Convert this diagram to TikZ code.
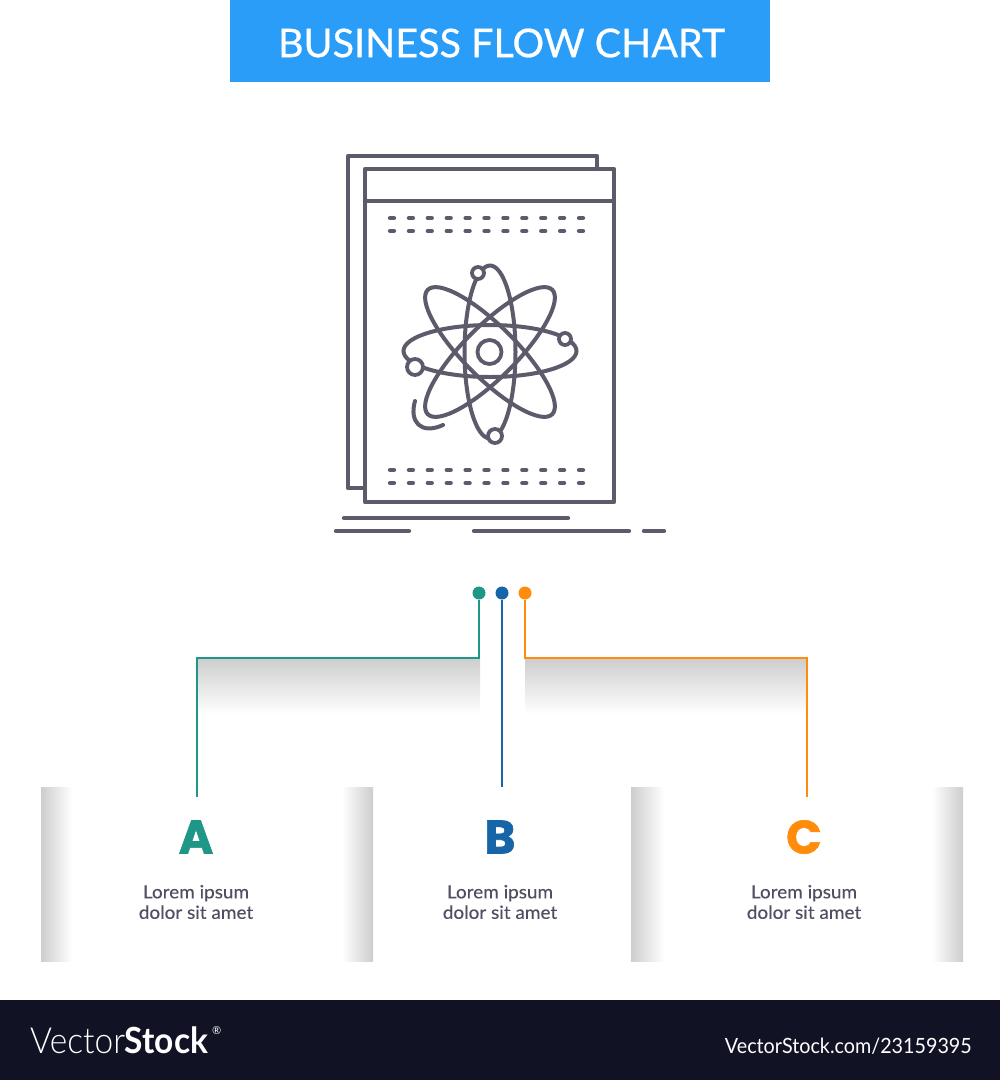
\documentclass[tikz,border=0pt]{standalone}
\usepackage{fontspec}
\setmainfont{Lato}
\newfontfamily\titlefont[FakeBold=.6]{Lato}
\newfontfamily\loremfont[FakeBold=.25, FakeStretch=1.04]{Lato}
\newfontfamily\letterfont[FakeBold=1.2]{Poppins}
\newfontfamily\footfont[FakeStretch=.94]{Lato}
\newfontfamily\logofont[FakeStretch=.93]{Lato Light}
\newfontfamily\logoboldfont[FakeStretch=.93]{Lato}
\definecolor{titleblue}{HTML}{2A9DF8}
\definecolor{icongray}{HTML}{5C5A6B}
\definecolor{textgray}{HTML}{504E62}
\definecolor{tealc}{HTML}{1E9787}
\definecolor{bluec}{HTML}{1565A8}
\definecolor{orangec}{HTML}{FF8C0A}
\definecolor{footc}{HTML}{111325}
\definecolor{shadec}{HTML}{CDCDCE}
\tikzset{
	icon/.style={draw=icongray, line width=4.3pt, line join=round, line cap=round},
	thin icon/.style={draw=icongray, line width=4pt, line cap=round},
	electron/.style={circle, draw=icongray, fill=white, line width=3.8pt, inner sep=0pt},
	dot/.style={circle, inner sep=0pt, minimum size=13pt},
	letter/.style={font=\letterfont\bfseries\fontsize{47}{47}\selectfont},
	lorem/.style={text=textgray, align=center, font=\loremfont\fontsize{18.2}{20.5}\selectfont},
	shade v/.style={top color=shadec, middle color=shadec!40!white, bottom color=white},
	shade l/.style={left color=shadec, middle color=shadec!30!white, right color=white},
	shade r/.style={left color=white, middle color=shadec!30!white, right color=shadec}
}
\begin{document}
\begin{tikzpicture}[x=1pt, y=-1pt]
	\useasboundingbox (0, 0) rectangle (1000, 1080);

	\fill[titleblue] (230, 0) rectangle (770, 82);
	\node[text=white, font=\titlefont\fontsize{39.5}{40}\selectfont] (title) at (501.5, 43) {BUSINESS FLOW CHART};

	\draw[icon] (365, 488) -- (348, 488) -- (348, 156) -- (597, 156) -- (597, 169);
	\draw[icon] (365, 169) rectangle (614, 502);
	\draw[icon] (365, 201) -- (614, 201);
	\foreach \y in {218, 231, 470, 483}
		\foreach \i in {0, ..., 10}
			\draw[icon] (390 + 18.9 * \i, \y) -- (394 + 18.9 * \i, \y);
	\draw[icon] (344, 518) -- (568, 518);
	\draw[icon] (336, 531) -- (409, 531);
	\draw[icon] (474, 531) -- (629, 531);
	\draw[icon] (644, 531) -- (664, 531);

	\draw[thin icon] (490, 351) ellipse [x radius=86.5, y radius=26];
	\draw[thin icon] (490, 352) ellipse [x radius=25.5, y radius=86.5];
	\draw[thin icon] (490, 352) ellipse [x radius=88, y radius=26, rotate=45];
	\draw[thin icon] (490, 352) ellipse [x radius=88, y radius=26, rotate=-45];
	\draw[thin icon] (415, 401) .. controls (409, 422) and (421, 435) .. (443, 425);
	\node[electron, minimum size=24pt] (nucleus) at (489.5, 352) {};
	\node[electron, minimum size=12pt] (top) at (478, 273) {};
	\node[electron, minimum size=12pt] (right) at (565, 339) {};
	\node[electron, minimum size=16pt] (left) at (415, 367) {};
	\node[electron, minimum size=14pt] (bottom) at (495, 436) {};

	\shade[shade v] (197, 658) rectangle (480, 714);
	\shade[shade v] (525, 658) rectangle (807, 714);
	\shade[shade l] (41, 787) rectangle (72, 961);
	\shade[shade r] (342, 787) rectangle (373, 961);
	\shade[shade l] (631, 787) rectangle (664, 961);
	\shade[shade r] (932, 787) rectangle (963, 961);

	\node[dot, fill=tealc] (dota) at (479, 593) {};
	\node[dot, fill=bluec] (dotb) at (502, 593) {};
	\node[dot, fill=orangec] (dotc) at (525, 593) {};
	\coordinate (turna) at (479, 658);
	\coordinate (cornera) at (197, 658);
	\coordinate (enda) at (197, 797);
	\coordinate (endb) at (502, 787);
	\coordinate (turnc) at (525, 658);
	\coordinate (cornerc) at (807, 658);
	\coordinate (endc) at (807, 797);
	\draw[tealc, line width=1.6pt] (dota) -- (turna) -- (cornera) -- (enda);
	\draw[bluec, line width=1.6pt] (dotb) -- (endb);
	\draw[orangec, line width=1.6pt] (dotc) -- (turnc) -- (cornerc) -- (endc);

	\node[letter, text=tealc] (a) at (196, 837) {A};
	\node[letter, text=bluec] (b) at (500, 837) {B};
	\node[letter, text=orangec] (c) at (804, 837) {C};
	\node[lorem] (atext) at (196, 902) {Lorem ipsum\\dolor sit amet};
	\node[lorem] (btext) at (500, 902) {Lorem ipsum\\dolor sit amet};
	\node[lorem] (ctext) at (804, 902) {Lorem ipsum\\dolor sit amet};

	\fill[footc] (0, 1000) rectangle (1000, 1080);
	\node[text=white, anchor=base west, inner sep=0pt, font=\logofont\fontsize{36}{36}\selectfont] (logo) at (30, 1053) {Vector{\logoboldfont\bfseries Stock}};
	\node[text=white, anchor=west, inner sep=0pt, font=\fontsize{11}{11}\selectfont] (reg) at (212, 1031) {\textregistered};
	\node[text=white, anchor=base east, inner sep=0pt, font=\footfont\fontsize{21}{21}\selectfont] (url) at (972, 1053) {VectorStock.com/23159395};
\end{tikzpicture}
\end{document}
